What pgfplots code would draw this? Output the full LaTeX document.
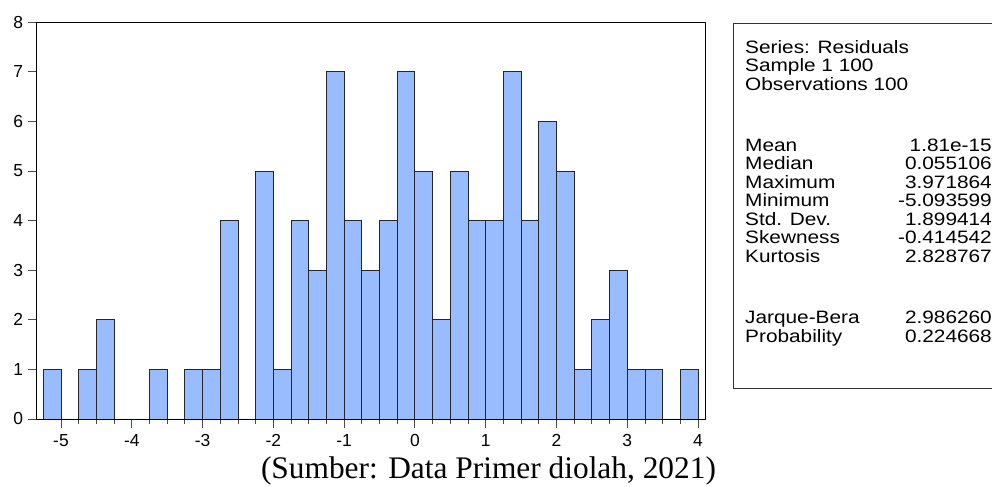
\documentclass[border=0pt]{standalone}
\usepackage{pgfplots}
\pgfplotsset{compat=1.18}
\usepackage{fontspec}
\setmainfont{Liberation Sans}
\newfontfamily\statfont[FakeStretch=1.16]{Liberation Sans}
\newfontfamily\timesfont{Liberation Serif}
\definecolor{barblue}{RGB}{153,187,255}

\begin{document}
\begin{tikzpicture}[x=1bp,y=1bp]
\useasboundingbox (0,0) rectangle (992,487);
\begin{axis}[
  at={(36.7bp,68bp)}, anchor=south west,
  scale only axis,
  width=669bp, height=396.7bp,
  xmin=-5.343, xmax=4.109,
  ymin=0, ymax=8,
  xtick={-5,-4,...,4},
  ytick={0,1,...,8},
  minor x tick num=3,
  xtick pos=bottom, ytick pos=left,
  tick align=outside,
  major tick length=9bp,
  minor tick length=5bp,
  tick style={black!70, line width=0.8bp},
  axis line style={black, line width=0.9bp},
  /pgf/number format/assume math mode=true,
  ticklabel style={font=\fontsize{17.5}{20}\selectfont},
  xticklabel style={yshift=-3bp},
  yticklabel style={xshift=-1bp},
]
\addplot[ybar interval, fill=barblue, draw=black!85, line width=0.8bp]
coordinates {
(-5.25,1) (-5.00,0) (-4.75,1) (-4.50,2) (-4.25,0) (-4.00,0)
(-3.75,1) (-3.50,0) (-3.25,1) (-3.00,1) (-2.75,4) (-2.50,0)
(-2.25,5) (-2.00,1) (-1.75,4) (-1.50,3) (-1.25,7) (-1.00,4)
(-0.75,3) (-0.50,4) (-0.25,7) (0.00,5) (0.25,2) (0.50,5)
(0.75,4) (1.00,4) (1.25,7) (1.50,4) (1.75,6) (2.00,5)
(2.25,1) (2.50,2) (2.75,3) (3.00,1) (3.25,1) (3.50,0)
(3.75,1) (4.00,1)
};
\end{axis}

% statistics box
\draw[black!80, line width=0.9bp] (733,464) rectangle (1000,99);
\begin{scope}[every node/.style={inner sep=0pt, font=\statfont\fontsize{18}{21}\selectfont}]
\node[anchor=base west] at (745,433.5) {Series: Residuals};
\node[anchor=base west] at (745,415) {Sample 1 100};
\node[anchor=base west] at (745,396.5) {Observations 100};
\foreach \lab/\val/\yy in {Mean/1.81e-15/335.5, Median/0.055106/317,
  Maximum/3.971864/298.5, Minimum/-5.093599/280, Std. Dev./1.899414/261.5,
  Skewness/-0.414542/243, Kurtosis/2.828767/224.5,
  Jarque-Bera/2.986260/163, Probability/0.224668/144.5}{
  \node[anchor=base west] at (745,\yy) {\lab};
  \node[anchor=base east] at (992,\yy) {\val};
}
\end{scope}

% source caption
\node[anchor=base, inner sep=0pt, font=\timesfont\fontsize{31.5}{34}\selectfont]
  at (488.5,8) {(Sumber: Data Primer diolah, 2021)};
\end{tikzpicture}
\end{document}
